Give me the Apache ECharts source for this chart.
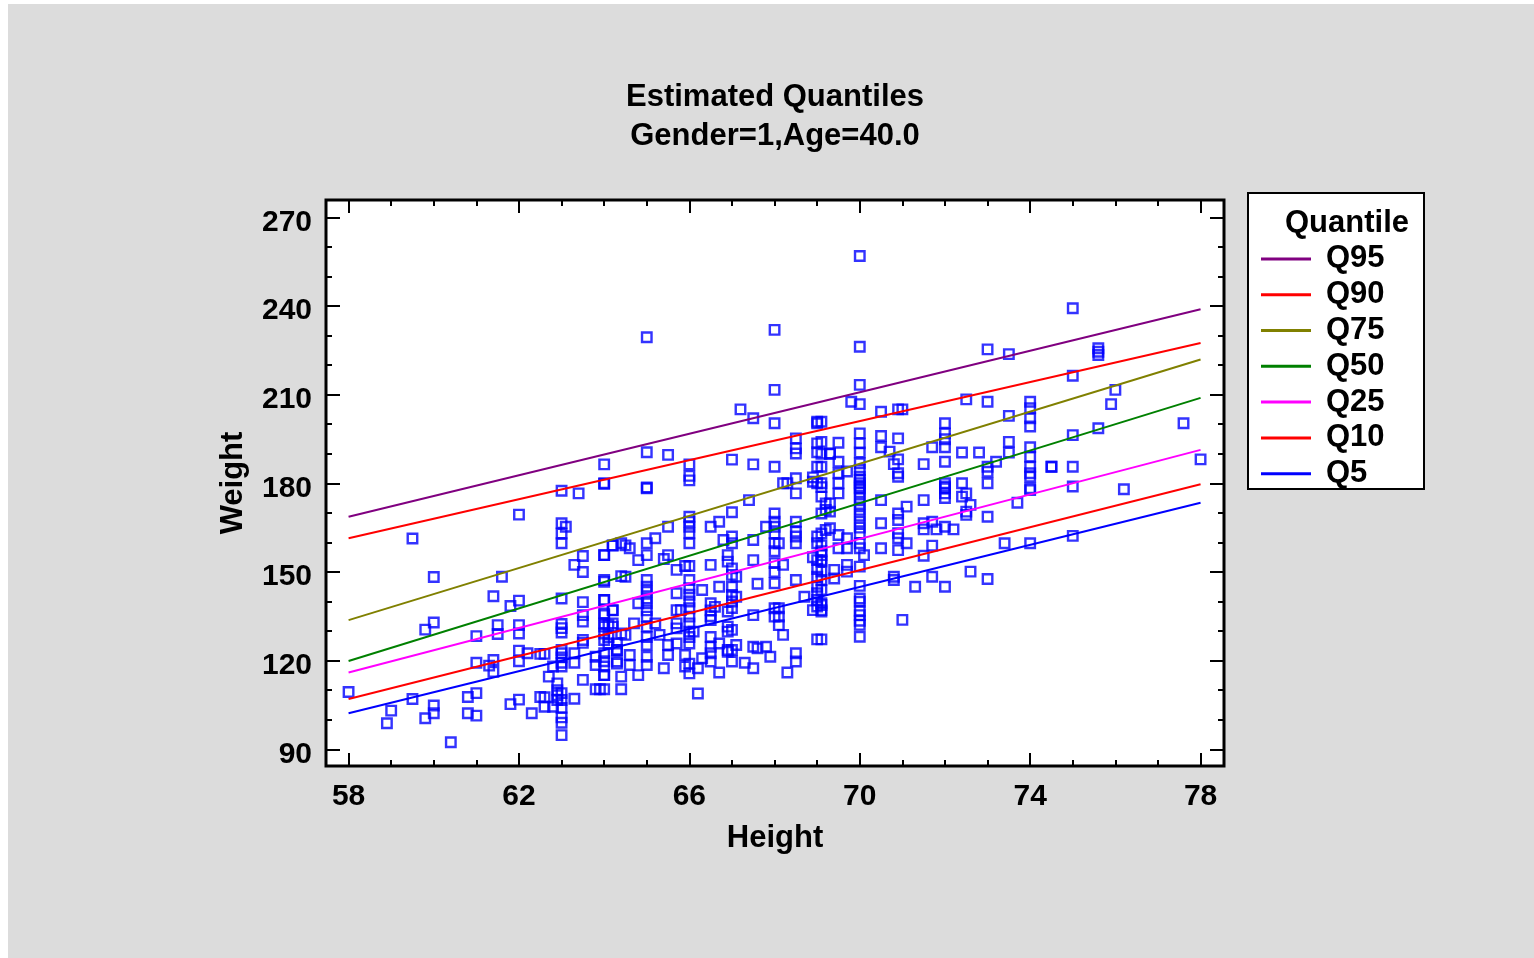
<!DOCTYPE html>
<html>
<head>
<meta charset="utf-8">
<script src="https://cdn.jsdelivr.net/npm/echarts@6/dist/echarts.min.js"></script>
<style>
  html, body { margin: 0; padding: 0; background: #fff; }
  #chart { position: absolute; left: 8px; top: 4px; width: 1526px; height: 954px; background: #dcdcdc; }
</style>
</head>
<body>
<div id="chart"></div>
<script>
// quantile regression lines, weight at height 58 and at height 78
const quantileNames = ['Q95', 'Q90', 'Q75', 'Q50', 'Q25', 'Q10', 'Q5']
const quantileColors = ['#800080', '#ff0000', '#808000', '#008000', '#ff00ff', '#ff0000', '#0000ff']
const weightAt58 = [168.7, 161.4, 133.7, 119.9, 116.0, 107.0, 102.2]
const weightAt78 = [238.9, 227.5, 221.9, 208.9, 191.3, 179.7, 173.4]

const xMajor = [58, 62, 66, 70, 74, 78]
const xMinor = [59, 60, 61, 63, 64, 65, 67, 68, 69, 71, 72, 73, 75, 76, 77]
const yMajor = [90, 120, 150, 180, 210, 240, 270]
const yMinor = [100, 110, 130, 140, 160, 170, 190, 200, 220, 230, 250, 260]

// observed [height, weight]
const observed = [
  [58, 109.4], [59.5, 161.3], [59, 103.1], [58.9, 98.8], [59.5, 107], [60, 148.3], [60, 132.9], [59.8, 130.5],
  [60, 104.8], [60, 102.2], [59.8, 100.5], [60.4, 92.4], [60.8, 107.7], [60.8, 102.2], [61, 109], [61, 101.4],
  [61, 128.3], [61, 119.3], [61.3, 118.3], [61.4, 120.2], [61.4, 116.2], [61.4, 141.8], [61.5, 132], [61.5, 129],
  [61.6, 148.4], [62, 169.4], [62, 140.3], [62, 132], [62, 129.2], [61.8, 138.5], [62, 123.4], [62, 119.8],
  [61.8, 105.3], [62, 106.8], [62.2, 122.5], [62.5, 122.3], [62.6, 122.3], [62.3, 102.2], [62.5, 107.7], [62.6, 107.6],
  [63, 177.5], [63.4, 176.6], [63, 166.5], [63.1, 165.3], [63, 163], [63, 159.7], [63.5, 155.4], [63.3, 152.4],
  [63.5, 150], [63, 141], [63.5, 139.8], [63.5, 135.4], [63.5, 133.2], [63, 132.4], [63, 131], [63, 129.5],
  [63.5, 127], [63.5, 126], [63, 123.6], [63, 122.5], [63, 121.1], [63, 119.3], [62.8, 118], [63, 118],
  [63.3, 122.5], [63.3, 119.3], [62.7, 114.6], [62.9, 112.3], [62.9, 110], [62.9, 108.3], [62.9, 106.7], [63, 109],
  [63, 106.7], [63, 104], [63, 100.8], [63, 99], [63, 94.8], [62.6, 104.4], [62.8, 104.4], [63.3, 107.1],
  [63.5, 113.5], [63.8, 121.3], [63.8, 118.5], [64, 122.5], [64, 119.8], [64, 115.1], [63.8, 110.3], [63.9, 110.3],
  [64, 110.3], [64.4, 114.6], [64.4, 110.3], [64, 146.7], [64, 155.7], [64.2, 158.9], [64, 140.5], [64, 135.4],
  [64.2, 137.1], [64, 131.5], [64.1, 132], [64.2, 132.6], [64, 127], [64.1, 125.8], [64.3, 123.6], [64.3, 119],
  [64.4, 159.7], [64.4, 148.6], [64.4, 129.2],
  [64, 179.8], [65, 178.3], [66, 181], [67.4, 174.3], [68.5, 176.6], [68.2, 180], [68.9, 180.5], [69.1, 178.7],
  [66, 168.7], [66, 167], [66, 165.3], [66, 163.1], [66, 159.7], [65.5, 165.3], [66.5, 165.3], [66.7, 167], [67, 170.2],
  [67.8, 165.3], [68, 169.8], [68, 167], [68, 165.3], [68, 163], [68, 159.7], [68.5, 167], [68.5, 163.6], [68.5, 162], [68.5, 159.7],
  [69, 162], [69, 159.7], [69.2, 164.2], [69.2, 173.2], [69.2, 171],
  [66.8, 160.8], [67, 162], [67, 159.7], [67.5, 160.8], [68.1, 159.7],
  [64.2, 159], [64.5, 159], [64.6, 158], [65, 159.7], [65.2, 161.4],
  [64, 155.7], [64.8, 154], [65, 155.7], [65.4, 154.4], [65.5, 155.7],
  [65.7, 150.7], [65.9, 152], [66, 152],
  [66.5, 152.4], [66.9, 155.7], [66.9, 153.5], [67, 151.2], [67, 149],
  [67.5, 154], [68, 157], [68, 153], [68, 150], [68.2, 152.4],
  [68.9, 155], [69, 154], [69.1, 157], [69, 151], [69, 148.4],
  [64, 147.3], [64.5, 148.4], [65, 147.3], [65, 145], [65, 143.3], [65, 141],
  [65.7, 142.8], [66, 147.3], [66, 144.5], [66, 142.3], [66, 140], [66, 137.7],
  [66.3, 143.9], [66.7, 145], [67, 145], [67, 142.2], [67.1, 148.4],
  [67.6, 146], [68, 146.2], [68.5, 147.3], [68.7, 141.6],
  [69, 145], [69, 142.8], [69, 140.5], [69, 138.3], [68.9, 137.1], [69.1, 137.1],
  [64, 140.5], [64, 136], [64.2, 137], [64.8, 139.4], [65, 139.4], [65, 137], [65, 134.9],
  [65.7, 137.1], [65.8, 137.1], [66, 134.9], [66, 132.6],
  [66.5, 139.4], [66.5, 137], [66.5, 135], [66.6, 138.2], [66.9, 136.6], [67, 140], [67, 137.8], [67.1, 141.6],
  [67.5, 135.4], [68, 137.7], [68, 134.9], [68.1, 137.7], [68.1, 134.9], [68.1, 132],
  [64, 132.6], [64, 129.2], [64.1, 128], [64.3, 125.8], [64.3, 123.6], [64.2, 131.5],
  [64.5, 128.7], [64.7, 132.6], [65, 131.5], [65, 128], [65, 125.3], [65.2, 132.6],
  [65.3, 128.7], [65.5, 125.3], [65.7, 132.6], [65.7, 130.9], [65.7, 125.8],
  [66, 129.8], [66, 128], [66, 125.8], [66.1, 129.8],
  [66.5, 133.7], [66.5, 128], [66.5, 124.7], [66.7, 125.8],
  [66.9, 131.5], [66.9, 129.8], [67, 130.4], [66.9, 123.6], [67, 123.6], [67.1, 125.3],
  [67.5, 124.7], [67.6, 124.2], [67.8, 124.7], [67.9, 121.3], [68.2, 128.7],
  [68.5, 122.5], [68.5, 119.7], [68.3, 116], [69, 127.2],
  [64, 118], [64, 115.1], [64.6, 121.9], [64.8, 115.1],
  [64.3, 119.7], [64.6, 118.5], [65, 121.3], [65, 118.5], [65.4, 117.4],
  [65.5, 121.9], [65.9, 121.9], [66, 119], [65.9, 118], [66, 115.7], [66.2, 117.4],
  [66.3, 120.8], [66.5, 122.5], [66.5, 119.7],
  [66.7, 116], [66.9, 123], [67, 119.7], [67.3, 119.3], [67.5, 117.4], [66.2, 108.9],
  [65, 229.4], [68, 231.9], [68, 211.6], [67.2, 205], [67.5, 202], [68, 200.3], [65, 190.5], [65.5, 189.6],
  [64, 186.4], [64, 180], [66, 186.4], [66, 182.5], [67, 188], [67.5, 186.4], [68, 185.6], [68.5, 195.2],
  [68.5, 191.8], [68.5, 190.1], [69, 200.8], [69, 200.3], [69, 193.5], [69, 190.5], [69, 185.6], [69.3, 190.1],
  [65, 178.6], [68.3, 180], [68.5, 181.7], [68.9, 182], [69, 180],
  [70, 256.9], [70, 226.2], [70, 213.3], [69.8, 207.6], [70, 206.8], [70.5, 204.2], [70.9, 205], [71, 205],
  [72.5, 208.4], [73, 225.3], [73.5, 223.7], [73, 207.6], [74, 207.6], [74, 205.4], [74, 202], [74, 199.2], [73.5, 202.8],
  [69.1, 200.8], [69.1, 194], [69.1, 190], [69.1, 185.6], [69.1, 180],
  [69.3, 190], [69.5, 193.7], [69.5, 187.3], [69.5, 183.4], [69.7, 184], [69.5, 180],
  [70, 196.9], [70, 193.5], [70, 190.4], [70, 186.8], [70, 184.5], [70, 182.2], [70, 180], [70, 178.3],
  [70.5, 196], [70.5, 192.2], [70.7, 190.7], [70.8, 186.5],
  [70.9, 195.2], [70.9, 188.1], [70.9, 183.4], [70.9, 182.2],
  [71.5, 186.5], [71.7, 192.2], [72, 200.3], [72, 196.9], [72, 194.9], [72, 192.2], [72, 187.3],
  [72.4, 190.4], [72.8, 190.4], [73.2, 187.3], [73, 185.6], [73, 183.9], [73, 180],
  [73.5, 194], [73.5, 190.4],
  [74, 192.2], [74, 189], [74, 185.6], [74, 183.4], [74, 182.2], [74, 178.3], [74.5, 185.6], [72, 180], [72, 178.3], [72.4, 180],
  [69.1, 175.5], [69.1, 169.8], [69.1, 163], [69.1, 159], [69.1, 155.7], [69.1, 153.5], [69.1, 150.1], [69.1, 147.3],
  [69.1, 143.9], [69.1, 139.4], [69.1, 136.6], [69.1, 127.2],
  [69.3, 173.2], [69.3, 170.4], [69.3, 164.8], [69.5, 162.5], [69.5, 158], [69.7, 161.4], [69.7, 158], [69.4, 150.7],
  [69.4, 147.8], [69.7, 152.4], [69.7, 150.1], [69.1, 154], [69.1, 138.8], [69.5, 176.6],
  [70, 181.1], [70, 179], [70, 177], [70, 175], [70, 173], [70, 171], [70, 169], [70, 167], [70, 165], [70, 163],
  [70, 159.7], [70, 158], [70.1, 155.7], [70, 151.8], [70, 145.3], [70, 141], [70, 139.9], [70, 136.9], [70, 135.4],
  [70, 133.5], [70, 132.1], [70, 128.1],
  [70.5, 174.3], [70.5, 166.5], [70.5, 158],
  [70.9, 169.8], [71.1, 172.1], [70.9, 167.6], [70.9, 163.1], [70.9, 161.4], [71.1, 159.7], [70.9, 157.4],
  [70.8, 148.4], [70.8, 147.3], [71, 133.8],
  [71.5, 174.3], [71.5, 166.5], [71.5, 164.4], [71.7, 167], [71.8, 164.4], [72, 165.3], [72.2, 164.4],
  [71.5, 155.5], [71.7, 158.9], [71.7, 148.4], [71.3, 145], [72, 145],
  [72, 178.9], [72, 176.6], [72, 175], [72.4, 175.5], [72.5, 176.6], [72.5, 170.4], [72.5, 169.3],
  [72.6, 172.7], [73, 168.7], [72.6, 150.1], [73, 147.6], [73.7, 173.4], [74, 177.7], [73.4, 159.7], [74, 159.7],
  [75, 239.2], [75.6, 225.7], [75.6, 224.5], [75.6, 223.4], [75, 216.4], [76, 211.6], [75.9, 206.8], [75.6, 198.6],
  [75, 196.3], [74.5, 185.6], [75, 185.6], [77.6, 200.3], [78, 188.1], [75, 178.9], [76.2, 178], [75, 162.2]
]

const xRange = [57.47, 78.55]
const yRange = [84.35, 275.85]
const font = { fontFamily: 'Liberation Sans, Arial, sans-serif', fontWeight: 'bold', color: '#000' }

const makeX = (position, values, len, labels, extra) => Object.assign({
  type: 'value', gridIndex: 0, position, min: xRange[0], max: xRange[1],
  axisLine: { show: false }, splitLine: { show: false },
  axisTick: { inside: true, length: len, customValues: values, lineStyle: { color: '#000', width: 2 } },
  axisLabel: labels
    ? Object.assign({ customValues: values, fontSize: 30, margin: 16 }, font)
    : { show: false }
}, extra || {})

const makeY = (position, values, len, labels, extra) => Object.assign({
  type: 'value', gridIndex: 0, position, min: yRange[0], max: yRange[1],
  axisLine: { show: false }, splitLine: { show: false },
  axisTick: { inside: true, length: len, customValues: values, lineStyle: { color: '#000', width: 2 } },
  axisLabel: labels
    ? Object.assign({ customValues: values, fontSize: 30, margin: 14, verticalAlign: 'top', lineHeight: 10 }, font)
    : { show: false }
}, extra || {})

const chart = echarts.init(document.getElementById('chart'))

const lineSeries = quantileNames.map((name, i) => ({
  name,
  type: 'line',
  xAxisIndex: 0,
  yAxisIndex: 0,
  data: [[58, weightAt58[i]], [78, weightAt78[i]]],
  showSymbol: false,
  lineStyle: { color: quantileColors[i], width: 2 },
  itemStyle: { color: quantileColors[i] },
  z: 3
}))

chart.setOption({
  animation: false,
  title: {
    text: 'Estimated Quantiles\nGender=1,Age=40.0',
    left: 767,
    top: 74,
    padding: 0,
    textAlign: 'center',
    textStyle: Object.assign({ fontSize: 31, lineHeight: 39 }, font)
  },
  grid: {
    left: 318, top: 196, width: 898, height: 566,
    show: true, backgroundColor: '#fff', borderColor: '#000', borderWidth: 3
  },
  xAxis: [
    makeX('bottom', xMajor, 13, true, {
      name: 'Height', nameLocation: 'middle', nameGap: 57,
      nameTextStyle: Object.assign({ fontSize: 31 }, font)
    }),
    makeX('bottom', xMinor, 6, false),
    makeX('top', xMajor, 13, false),
    makeX('top', xMinor, 6, false)
  ],
  yAxis: [
    makeY('left', yMajor, 14, true, {
      name: 'Weight', nameLocation: 'middle', nameGap: 77, nameRotate: 90,
      nameTextStyle: Object.assign({ fontSize: 31 }, font)
    }),
    makeY('left', yMinor, 6, false),
    makeY('right', yMajor, 14, false),
    makeY('right', yMinor, 6, false)
  ],
  legend: {
    data: quantileNames,
    orient: 'vertical',
    left: 1248,
    top: 232,
    itemGap: 0,
    itemWidth: 50,
    itemHeight: 3,
    icon: 'rect',
    z: 10,
    textStyle: Object.assign({ fontSize: 31, lineHeight: 35.8, padding: [0, 0, 0, 10] }, font)
  },
  graphic: [
    {
      type: 'rect', left: 1239, top: 188, z: 1,
      shape: { width: 176, height: 296 },
      style: { fill: '#fff', stroke: '#000', lineWidth: 2 }
    },
    {
      type: 'text', left: 1277, top: 204, z: 2,
      style: { text: 'Quantile', fontSize: 31, fill: '#000', fontFamily: font.fontFamily, fontWeight: 'bold' }
    }
  ],
  series: [
    {
      name: 'observed',
      type: 'scatter',
      xAxisIndex: 0,
      yAxisIndex: 0,
      data: observed,
      symbol: 'rect',
      symbolSize: 9.5,
      itemStyle: { color: 'rgba(0,0,0,0)', borderColor: '#0000ff', borderWidth: 2.4 },
      z: 2
    }
  ].concat(lineSeries)
})
</script>
</body>
</html>
